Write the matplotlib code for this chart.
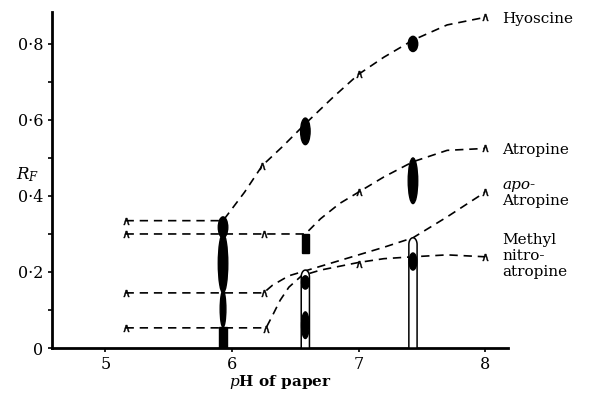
import numpy as np
import matplotlib
matplotlib.use("Agg")
import matplotlib.pyplot as plt
from matplotlib.patches import Ellipse, Rectangle

plt.rcParams['font.family'] = ['DejaVu Serif']
plt.rcParams['mathtext.fontset'] = 'dejavuserif'

# curves (pH, Rf)
hyo_ph = [5.16, 5.93, 6.1, 6.24, 6.4, 6.58, 6.8, 7.0, 7.2, 7.43, 7.7, 8.0]
hyo_rf = [0.335, 0.335, 0.41, 0.48, 0.53, 0.59, 0.66, 0.72, 0.765, 0.81, 0.85, 0.87]
atr_ph = [5.16, 6.25, 6.58, 6.7, 6.85, 7.0, 7.2, 7.43, 7.7, 8.0]
atr_rf = [0.30, 0.30, 0.30, 0.34, 0.38, 0.41, 0.45, 0.49, 0.52, 0.525]
apo_ph = [5.16, 6.25, 6.32, 6.45, 6.6, 6.8, 7.0, 7.2, 7.43, 7.7, 8.0]
apo_rf = [0.145, 0.145, 0.165, 0.19, 0.205, 0.225, 0.245, 0.265, 0.29, 0.345, 0.41]
met_ph = [5.16, 6.27, 6.32, 6.38, 6.45, 6.55, 6.7, 7.0, 7.2, 7.43, 7.7, 8.0]
met_rf = [0.053, 0.053, 0.085, 0.125, 0.16, 0.19, 0.205, 0.225, 0.235, 0.24, 0.245, 0.24]

# caret marks (pH, Rf)
car_ph = [5.16, 6.24, 7.0, 8.0, 5.16, 6.25, 7.0, 8.0, 5.16, 6.25, 8.0, 5.16, 6.27, 7.0, 8.0]
car_rf = [0.335, 0.48, 0.72, 0.87, 0.30, 0.30, 0.41, 0.525, 0.145, 0.145, 0.41, 0.053, 0.05, 0.22, 0.24]

# solid spots: pH, Rf low, Rf high
spot_ph = [5.93, 5.93, 5.93, 5.93, 6.58, 6.58, 6.58, 6.58, 7.43, 7.43, 7.43]
spot_lo = [0.29, 0.145, 0.055, 0.0, 0.535, 0.25, 0.155, 0.025, 0.78, 0.38, 0.205]
spot_hi = [0.345, 0.30, 0.15, 0.055, 0.605, 0.30, 0.19, 0.095, 0.82, 0.50, 0.25]
# open streaks: pH, top Rf
streak_ph = [6.58, 7.43]
streak_top = [0.205, 0.29]

labels = ['Hyoscine', 'Atropine', 'apo-', 'Atropine', 'Methyl', 'nitro-', 'atropine']
label_rf = [0.865, 0.52, 0.43, 0.388, 0.285, 0.243, 0.201]

fig = plt.figure(figsize=(5.92, 3.93), dpi=100)
ax = fig.add_axes([0.088, 0.1145, 0.77, 0.855])

dash = dict(color='black', lw=1.2, ls=(0, (5, 3.5)))
for xs, ys in [(hyo_ph, hyo_rf), (atr_ph, atr_rf), (apo_ph, apo_rf), (met_ph, met_rf)]:
    ax.plot(xs, ys, **dash)
ax.plot(car_ph, car_rf, ls='none', marker=r'$\wedge$', ms=5, color='black',
        markeredgewidth=0.3)

# open streaks
w = 0.065
for x, top in zip(streak_ph, streak_top):
    r = 0.018
    th = np.linspace(np.pi, 0, 30)
    xs = np.concatenate([[x - w / 2], x + w / 2 * np.cos(th), [x + w / 2]])
    ys = np.concatenate([[0], top - r + r * np.sin(th), [0]])
    ax.fill(xs, ys, facecolor='white', edgecolor='black', lw=1.1, zorder=3)

for x, lo, hi in zip(spot_ph, spot_lo, spot_hi):
    if lo == 0.0:
        ax.add_patch(Rectangle((x - 0.03, lo), 0.06, hi - lo, color='black', zorder=4))
    elif x == 6.58 and lo == 0.25:
        ax.add_patch(Rectangle((x - 0.028, lo), 0.056, hi - lo, color='black', zorder=4))
    elif x != 5.93 and hi < 0.3:
        ax.add_patch(Ellipse((x, (lo + hi) / 2), 0.06, hi - lo, color='black', zorder=4))
    else:
        wd = 0.045 if (x == 5.93 and lo == 0.055) else 0.075
        ax.add_patch(Ellipse((x, (lo + hi) / 2), wd, hi - lo, color='black', zorder=4))

ax.set_xlim(4.58, 8.18)
ax.set_ylim(0, 0.884)
ax.spines['top'].set_visible(False)
ax.spines['right'].set_visible(False)
ax.spines['left'].set_linewidth(2)
ax.spines['bottom'].set_linewidth(2)
ax.set_xticks([5, 6, 7, 8])
ax.set_xticklabels(['5', '6', '7', '8'], fontsize=11.5)
ax.set_yticks([0, 0.2, 0.4, 0.6, 0.8])
ax.set_yticklabels(['0', '0·2', '0·4', '0·6', '0·8'], fontsize=11.5)
ax.set_yticks([0.1, 0.3, 0.5, 0.7], minor=True)
ax.tick_params(which='both', direction='out', length=3, width=1.2)
ax.tick_params(axis='x', pad=2.5)
fig.text(280 / 592, 1 - 382 / 393, r'$p$H of paper', fontsize=11,
         fontweight='bold', ha='center', va='center')
ax.text(-0.053, 0.515, r'$R_F$', transform=ax.transAxes, fontsize=12,
        ha='center', va='center')

for lab, y in zip(labels, label_rf):
    ax.text(0.987, y / 0.884, lab, transform=ax.transAxes, fontsize=11,
            style='italic' if lab == 'apo-' else 'normal',
            ha='left', va='center', clip_on=False)

fig.savefig('out.png', dpi=100)
